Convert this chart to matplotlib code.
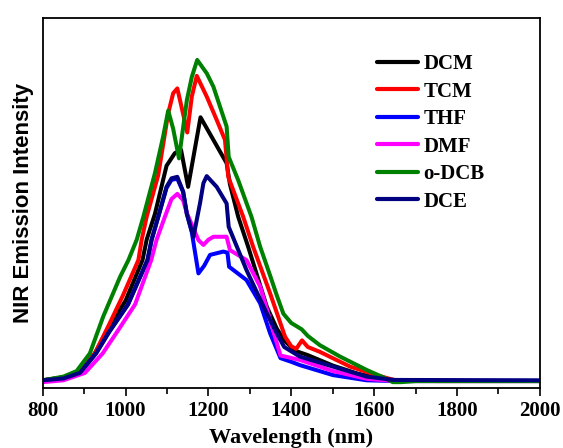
import matplotlib

matplotlib.use("Agg")
import matplotlib.pyplot as plt
from matplotlib.ticker import MultipleLocator

# wavelength (nm) / normalised intensity
wl_dcm = [800, 850, 890, 926, 960, 1000, 1041, 1051, 1071, 1099, 1119, 1134, 1151, 1181,
          1212, 1244, 1252, 1272, 1296, 1341, 1365, 1383, 1409, 1440, 1500, 1560, 1620,
          1680, 1800, 2000]
int_dcm = [0.020, 0.028, 0.045, 0.093, 0.165, 0.235, 0.345, 0.400, 0.470, 0.600, 0.634,
           0.643, 0.543, 0.731, 0.670, 0.607, 0.550, 0.462, 0.381, 0.219, 0.160, 0.128,
           0.100, 0.088, 0.060, 0.038, 0.024, 0.018, 0.018, 0.018]

wl_tcm = [800, 850, 890, 926, 960, 994, 1031, 1039, 1051, 1079, 1103, 1115, 1125, 1135,
          1149, 1160, 1172, 1196, 1220, 1240, 1248, 1284, 1308, 1349, 1385, 1400, 1412,
          1426, 1440, 1469, 1542, 1606, 1650, 1750, 2000]
int_tcm = [0.020, 0.028, 0.045, 0.093, 0.170, 0.250, 0.345, 0.400, 0.462, 0.575, 0.742,
           0.796, 0.809, 0.760, 0.690, 0.787, 0.843, 0.787, 0.724, 0.670, 0.570, 0.462,
           0.381, 0.255, 0.138, 0.112, 0.105, 0.128, 0.110, 0.097, 0.057, 0.034, 0.020,
           0.018, 0.018]

wl_thf = [800, 850, 890, 929, 960, 1006, 1053, 1063, 1079, 1099, 1111, 1125, 1139, 1148,
          1160, 1176, 1190, 1204, 1236, 1246, 1250, 1292, 1325, 1349, 1374, 1400, 1421,
          1501, 1582, 1650, 2000]
int_thf = [0.020, 0.025, 0.040, 0.093, 0.150, 0.225, 0.345, 0.400, 0.462, 0.540, 0.562,
           0.565, 0.530, 0.470, 0.420, 0.309, 0.330, 0.359, 0.368, 0.365, 0.327, 0.291,
           0.228, 0.147, 0.080, 0.070, 0.061, 0.034, 0.020, 0.018, 0.018]

wl_dmf = [800, 850, 902, 945, 985, 1023, 1062, 1075, 1095, 1111, 1125, 1139, 1148, 1176,
          1188, 1200, 1212, 1244, 1252, 1292, 1325, 1349, 1374, 1421, 1501, 1582, 1650,
          2000]
int_dmf = [0.015, 0.020, 0.040, 0.093, 0.160, 0.225, 0.345, 0.400, 0.462, 0.510, 0.524,
           0.507, 0.472, 0.399, 0.386, 0.400, 0.408, 0.408, 0.372, 0.345, 0.273, 0.183,
           0.087, 0.075, 0.045, 0.024, 0.018, 0.018]

wl_odcb = [800, 850, 882, 914, 946, 987, 1007, 1027, 1043, 1071, 1091, 1103, 1115, 1129,
           1148, 1160, 1173, 1196, 1212, 1244, 1249, 1272, 1304, 1325, 1350, 1365, 1381,
           1400, 1425, 1440, 1469, 1518, 1582, 1630, 1645, 1665, 1700, 2000]
int_odcb = [0.020, 0.030, 0.045, 0.093, 0.192, 0.300, 0.345, 0.400, 0.462, 0.580, 0.680,
            0.749, 0.700, 0.620, 0.777, 0.840, 0.886, 0.850, 0.814, 0.706, 0.624, 0.561,
            0.462, 0.381, 0.300, 0.250, 0.200, 0.175, 0.158, 0.140, 0.115, 0.084, 0.048,
            0.024, 0.015, 0.015, 0.018, 0.018]

wl_dce = [800, 850, 890, 929, 960, 1006, 1053, 1063, 1079, 1099, 1111, 1125, 1139, 1148,
          1164, 1180, 1188, 1196, 1220, 1244, 1249, 1292, 1341, 1365, 1383, 1421, 1501,
          1582, 1646, 2000]
int_dce = [0.020, 0.025, 0.040, 0.093, 0.150, 0.225, 0.345, 0.400, 0.462, 0.543, 0.566,
           0.570, 0.530, 0.470, 0.408, 0.500, 0.553, 0.572, 0.543, 0.498, 0.435, 0.318,
           0.201, 0.147, 0.110, 0.084, 0.057, 0.030, 0.021, 0.020]

series = [
    ("DCM", wl_dcm, int_dcm, "#000000"),
    ("TCM", wl_tcm, int_tcm, "#ff0000"),
    ("THF", wl_thf, int_thf, "#0000ff"),
    ("DMF", wl_dmf, int_dmf, "#ff00ff"),
    ("o-DCB", wl_odcb, int_odcb, "#008000"),
    ("DCE", wl_dce, int_dce, "#000080"),
]

serif = "Liberation Serif"

fig = plt.figure(figsize=(5.63, 4.48), dpi=100)
ax = fig.add_axes([0.0758, 0.1346, 0.8830, 0.8257])

for name, wl, inten, color in series:
    ax.plot(wl, inten, color=color, linewidth=2.9, label=name,
            solid_joinstyle="round", solid_capstyle="round")

ax.set_xlim(800, 2000)
ax.set_ylim(0, 1)
ax.xaxis.set_major_locator(MultipleLocator(200))
ax.xaxis.set_minor_locator(MultipleLocator(100))
ax.tick_params(axis="x", which="major", direction="out", length=6, width=1.2)
ax.tick_params(axis="x", which="minor", direction="out", length=4, width=1.2)
ax.set_yticks([])
for sp in ax.spines.values():
    sp.set_linewidth(1.3)

for lbl in ax.get_xticklabels():
    lbl.set_fontfamily(serif)
    lbl.set_fontweight("bold")
    lbl.set_fontsize(15)

ax.set_xlabel("Wavelength (nm)", fontfamily=serif, fontweight="bold", fontsize=16, labelpad=5)
ax.set_ylabel("NIR Emission Intensity", fontfamily="Liberation Sans", fontweight="bold",
              fontsize=16, labelpad=6)

leg = ax.legend(loc="upper left", bbox_to_anchor=(0.655, 0.924), frameon=False,
                handlelength=2.0, handletextpad=0.25, labelspacing=0.36, borderaxespad=0,
                prop={"family": serif, "weight": "bold", "size": 15})
for line in leg.get_lines():
    line.set_linewidth(3.0)

fig.savefig("out.png", dpi=100)
